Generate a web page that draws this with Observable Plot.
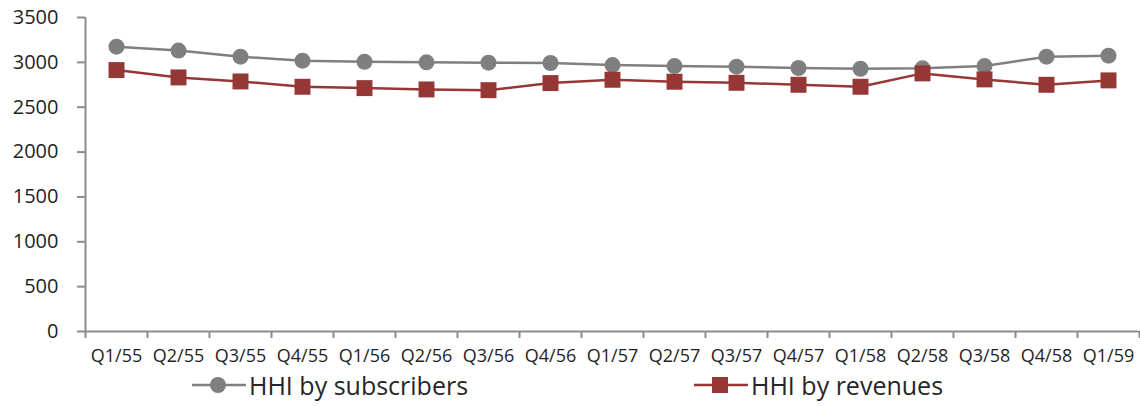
<!DOCTYPE html>
<html>
<head>
<meta charset="utf-8">
<script src="https://cdn.jsdelivr.net/npm/d3@7"></script>
<script src="https://cdn.jsdelivr.net/npm/@observablehq/plot@0.6"></script>
<style>
  body { margin: 0; background: #fff; font-family: "Open Sans", sans-serif; }
  #chart { width: 1140px; position: relative; }
  .legend { position: relative; width: 1140px; height: 42px; }
  .item { position: absolute; top: 3px; display: flex; align-items: center; font-size: 25px; color: #262626; }
  .item svg { margin-right: 3px; }
</style>
</head>
<body>
<div id="chart"></div>
<script>
// Quarters (Thai Buddhist-era years)
const quarters = ["Q1/55","Q2/55","Q3/55","Q4/55","Q1/56","Q2/56","Q3/56","Q4/56",
                  "Q1/57","Q2/57","Q3/57","Q4/57","Q1/58","Q2/58","Q3/58","Q4/58","Q1/59"];
// Herfindahl-Hirschman index by subscribers
const hhiSubscribers = [3175,3131,3063,3019,3007,3000,2996,2993,
                        2970,2959,2952,2937,2929,2933,2959,3063,3075];
// Herfindahl-Hirschman index by revenues
const hhiRevenues = [2914,2832,2787,2728,2713,2698,2690,2769,
                     2806,2784,2772,2750,2728,2877,2810,2750,2799];
const yTicks = [0,500,1000,1500,2000,2500,3000,3500];
const seriesNames = ["HHI by subscribers", "HHI by revenues"];
const seriesColors = ["#7f7f7f", "#953735"];

const subs = quarters.map((q, i) => ({quarter: q, value: hhiSubscribers[i]}));
const revs = quarters.map((q, i) => ({quarter: q, value: hhiRevenues[i]}));

const axisColor = "#8c8c8c";
const textColor = "#1f1f1f";
const band = 62;

const chart = Plot.plot({
  width: 1140,
  height: 365,
  marginTop: 17,
  marginBottom: 34,
  marginLeft: 85,
  marginRight: 1,
  style: {fontFamily: "Open Sans, sans-serif", fontSize: "18px", color: textColor, overflow: "visible"},
  x: {type: "band", domain: quarters, padding: 0, label: null},
  y: {domain: [0, 3500], label: null},
  marks: [
    // category labels
    Plot.axisX({tickSize: 0, tickPadding: 18, fontSize: 18, fill: textColor, label: null}),
    // tick marks at band boundaries
    Plot.axisX({tickSize: 7, tickFormat: () => "", dx: -band / 2, stroke: axisColor, strokeWidth: 2, label: null}),
    Plot.axisX({ticks: [quarters[quarters.length - 1]], tickSize: 7, tickFormat: () => "", dx: band / 2, stroke: axisColor, strokeWidth: 2, label: null}),
    Plot.axisY({ticks: yTicks, tickFormat: d => String(d), tickSize: 8, tickPadding: 19, fontSize: 20, fill: textColor, stroke: axisColor, strokeWidth: 2, label: null}),
    Plot.ruleY([0], {stroke: axisColor, strokeWidth: 2}),
    Plot.ruleX([quarters[0]], {dx: -band / 2, stroke: axisColor, strokeWidth: 2}),
    Plot.line(subs, {x: "quarter", y: "value", stroke: seriesColors[0], strokeWidth: 2.5}),
    Plot.dot(subs, {x: "quarter", y: "value", r: 8, fill: seriesColors[0], stroke: "none"}),
    Plot.line(revs, {x: "quarter", y: "value", stroke: seriesColors[1], strokeWidth: 2.5}),
    Plot.dot(revs, {x: "quarter", y: "value", symbol: "square", r: 9, fill: seriesColors[1], stroke: "none"})
  ]
});
document.getElementById("chart").appendChild(chart);

// Legend: line with marker, then series name
const legend = document.createElement("div");
legend.className = "legend";
const lefts = [192, 694];
seriesNames.forEach((name, i) => {
  const item = document.createElement("div");
  item.className = "item";
  item.style.left = lefts[i] + "px";
  const marker = i === 0
    ? `<circle cx="26" cy="12" r="8" fill="${seriesColors[i]}"/>`
    : `<rect x="18" y="4" width="16" height="16" fill="${seriesColors[i]}"/>`;
  item.innerHTML = `<svg width="54" height="24"><line x1="0" x2="54" y1="12" y2="12" stroke="${seriesColors[i]}" stroke-width="2.5"/>${marker}</svg><span>${name}</span>`;
  legend.appendChild(item);
});
document.getElementById("chart").appendChild(legend);
</script>
</body>
</html>
